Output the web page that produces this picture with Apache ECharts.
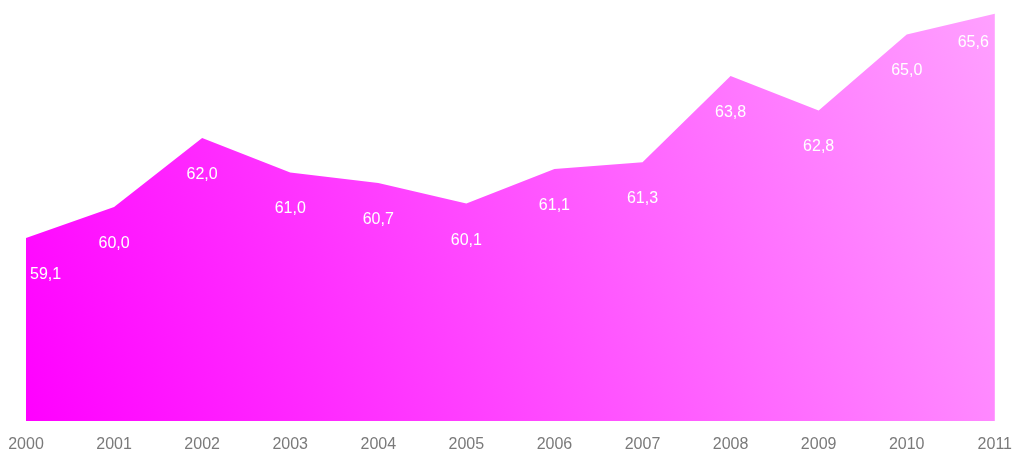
<!DOCTYPE html>
<html>
<head>
<meta charset="utf-8">
<script src="https://cdn.jsdelivr.net/npm/echarts@6/dist/echarts.min.js"></script>
<style>
  html, body { margin: 0; padding: 0; background: #fff; }
  #chart { width: 1015px; height: 455px; }
</style>
</head>
<body>
<div id="chart"></div>
<script>
var years = ['2000', '2001', '2002', '2003', '2004', '2005', '2006', '2007', '2008', '2009', '2010', '2011'];
var values = [59.1, 60.0, 62.0, 61.0, 60.7, 60.1, 61.1, 61.3, 63.8, 62.8, 65.0, 65.6];

var chart = echarts.init(document.getElementById('chart'));

// first and last labels are pushed inward so they stay inside the area
var seriesData = values.map(function (v, i) {
    var item = { value: v };
    if (i === 0) item.label = { align: 'left', offset: [4, 0] };
    if (i === values.length - 1) item.label = { align: 'right', offset: [-6, -8] };
    return item;
});

var option = {
    animation: false,
    grid: { left: 26, right: 17, top: 0, bottom: 34 },
    xAxis: {
        type: 'category',
        data: years,
        boundaryGap: false,
        axisLine: { show: false },
        axisTick: { show: false },
        axisLabel: {
            color: '#7a7a7a',
            fontFamily: 'Liberation Sans',
            fontSize: 16,
            margin: 16
        }
    },
    yAxis: {
        type: 'value',
        min: 53.8,
        max: 66,
        show: false,
        splitLine: { show: false }
    },
    series: [{
        type: 'line',
        data: seriesData,
        symbol: 'circle',
        symbolSize: 1,
        showSymbol: true,
        itemStyle: { color: 'rgba(0,0,0,0)' },
        lineStyle: { width: 0 },
        areaStyle: {
            opacity: 1,
            color: new echarts.graphic.LinearGradient(0, 1, 1, 0, [
                { offset: 0, color: '#ff00ff' },
                { offset: 1, color: '#ffa0ff' }
            ])
        },
        label: {
            show: true,
            position: 'bottom',
            distance: 28,
            color: '#ffffff',
            fontFamily: 'Liberation Sans',
            fontSize: 16,
            formatter: function (p) {
                return p.value.toFixed(1).replace('.', ',');
            }
        }
    }]
};

chart.setOption(option);
window.addEventListener('resize', function () {
    chart.resize();
});
</script>
</body>
</html>
